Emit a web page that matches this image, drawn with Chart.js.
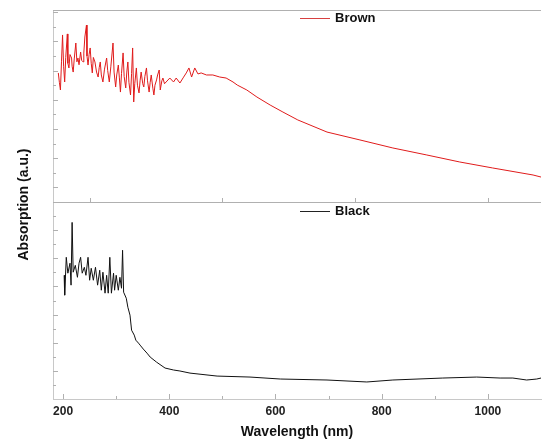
<!DOCTYPE html>
<html>
<head>
<meta charset="utf-8">
<script src="https://cdn.jsdelivr.net/npm/chart.js@4.4.1/dist/chart.umd.min.js"></script>
<style>
  body { margin: 0; background: #fff; }
  #wrap { width: 542px; height: 443px; }
</style>
</head>
<body>
<div id="wrap"><canvas id="absChart" width="542" height="443"></canvas></div>
<script>
// values (a.u., one tick = 1 unit)
const brownWavelength = [191, 193, 195, 197, 199, 201, 203, 205, 208, 209, 211, 213, 216, 217, 219, 221, 224, 226, 228, 230,
  233, 235, 238, 239, 241, 244, 245, 247, 249, 251, 253, 255, 257, 260, 263, 266, 268, 270, 272, 275,
  278, 282, 284, 287, 290, 294, 296, 299, 301, 304, 306, 308, 310, 313, 315, 318, 320, 322, 324, 327,
  329, 331, 333, 335, 338, 340, 343, 345, 347, 350, 352, 354, 357, 359, 362, 364, 366, 369, 371, 373,
  376, 378, 381, 383, 386, 388, 391, 394, 401, 408, 413, 420, 426, 432, 437, 442, 448, 454, 460, 470,
  482, 495, 507, 520, 528, 546, 565, 590, 614, 642, 697, 759, 821, 885, 947, 1009, 1085, 1100];
const brownAbs = [8.84, 8.2, 7.67, 9.6, 11.44, 9.3, 8.22, 9.9, 11.51, 9.5, 9.18, 10.1, 9.86, 9.3, 8.90, 9.8, 10.89, 9.6, 9.86, 9.4,
  10.27, 9.7, 9.59, 10.2, 11.30, 12.12, 10.0, 9.38, 10.1, 10.55, 9.5, 8.84, 9.9, 9.59, 8.9, 8.56, 9.2, 9.59, 8.7, 8.22,
  9.1, 9.86, 9.0, 8.22, 9.3, 10.89, 8.9, 7.88, 8.7, 9.38, 8.5, 7.53, 8.8, 10.21, 8.6, 7.81, 8.9, 9.59, 8.2, 7.33,
  8.8, 10.55, 6.85, 8.1, 9.18, 8.0, 7.47, 8.3, 8.90, 8.1, 7.88, 8.6, 9.18, 8.3, 7.53, 8.2, 8.70, 7.8, 7.33, 8.0,
  8.36, 8.7, 9.04, 7.67, 8.3, 8.49, 8.1, 8.22, 8.49, 8.22, 8.49, 8.15, 8.50, 8.84, 9.18, 8.56, 9.18, 8.77, 8.84, 8.70,
  8.70, 8.56, 8.49, 8.22, 8.01, 7.67, 7.19, 6.64, 6.16, 5.62, 4.79, 4.25, 3.70, 3.22, 2.74, 2.33, 1.85, 1.71];

const blackWavelength = [202, 203, 206, 209, 213, 215, 217, 219, 223, 227, 230, 233, 236, 240, 243, 247, 250, 253, 257, 261,
  265, 269, 272, 275, 279, 282, 285, 288, 291, 295, 297, 300, 304, 307, 310, 312, 314, 319, 322, 326,
  329, 334, 337, 342, 345, 351, 358, 364, 376, 392, 408, 420, 439, 490, 552, 609, 697, 772, 821, 915,
  979, 1023, 1047, 1073, 1092, 1100];
const blackAbs = [8.79, 7.38, 10.07, 8.94, 9.65, 8.09, 12.55, 9.01, 9.50, 8.65, 9.65, 10.07, 8.94, 9.36, 8.79, 10.07, 8.44, 9.29, 8.44, 9.36,
  8.09, 9.15, 7.73, 9.01, 7.52, 8.79, 7.52, 10.07, 7.52, 8.94, 7.73, 8.79, 7.73, 8.65, 7.87, 10.57, 7.59, 7.16, 6.52, 5.96,
  4.89, 4.54, 4.18, 3.97, 3.83, 3.55, 3.26, 2.98, 2.62, 2.20, 2.06, 1.99, 1.84, 1.63, 1.56, 1.42, 1.35, 1.21, 1.35, 1.49,
  1.56, 1.49, 1.49, 1.35, 1.42, 1.49];

const xTickValues = [200, 400, 600, 800, 1000];
const xMinorTicks = [300, 500, 700, 900];
const midTicks = [250, 500, 750, 1000];

const FONT = "'Liberation Sans', Arial, sans-serif";
const FRAME = "#c8c8c8";

function toPoints(xs, ys) {
  return xs.map((x, i) => ({ x: x, y: ys[i] }));
}

// frame, inner tick marks, panel legends and the shared y title
const framePlugin = {
  id: "frame",
  afterDraw(chart) {
    const ctx = chart.ctx;
    const area = chart.chartArea;
    const x = chart.scales.x;
    const yTop = chart.scales.yBrown;
    const yBot = chart.scales.yBlack;
    ctx.save();
    ctx.strokeStyle = FRAME;
    ctx.lineWidth = 1;
    ctx.beginPath();
    ctx.moveTo(area.left, Math.round(yTop.top) + 0.5);
    ctx.lineTo(area.right, Math.round(yTop.top) + 0.5);
    ctx.moveTo(area.left, Math.round(yBot.top) + 0.5);
    ctx.lineTo(area.right, Math.round(yBot.top) + 0.5);

    ctx.strokeStyle = "#b0b0b0";
    for (let v = 1; v < yTop.max; v++) {
      const py = Math.round(yTop.getPixelForValue(v)) + 0.5;
      const len = v % 2 ? 5 : 3;
      ctx.moveTo(area.left, py);
      ctx.lineTo(area.left + len, py);
    }
    for (let v = 1; v < yBot.max; v++) {
      const py = Math.round(yBot.getPixelForValue(v)) + 0.5;
      const len = v % 2 ? 3 : 5;
      ctx.moveTo(area.left, py);
      ctx.lineTo(area.left + len, py);
    }
    xTickValues.forEach((v) => {
      const px = Math.round(x.getPixelForValue(v)) + 0.5;
      ctx.moveTo(px, area.bottom);
      ctx.lineTo(px, area.bottom - 5);
    });
    xMinorTicks.forEach((v) => {
      const px = Math.round(x.getPixelForValue(v)) + 0.5;
      ctx.moveTo(px, area.bottom);
      ctx.lineTo(px, area.bottom - 3);
    });
    midTicks.forEach((v) => {
      const px = Math.round(x.getPixelForValue(v)) + 0.5;
      ctx.moveTo(px, yBot.top);
      ctx.lineTo(px, yBot.top - 4);
    });
    ctx.stroke();

    // legends
    const legends = [
      { text: "Brown", color: "#d84040", y: yTop.top + 8 },
      { text: "Black", color: "#222", y: yBot.top + 9 },
    ];
    ctx.font = "bold 13px " + FONT;
    ctx.textBaseline = "middle";
    legends.forEach((l) => {
      ctx.strokeStyle = l.color;
      ctx.beginPath();
      ctx.moveTo(300, Math.round(l.y) + 0.5);
      ctx.lineTo(330, Math.round(l.y) + 0.5);
      ctx.stroke();
      ctx.fillStyle = "#111";
      ctx.fillText(l.text, 335, l.y + 0.5);
    });

    // y title spanning both panels
    ctx.translate(24, (area.top + area.bottom) / 2);
    ctx.rotate(-Math.PI / 2);
    ctx.font = "bold 14px " + FONT;
    ctx.textAlign = "center";
    ctx.fillStyle = "#111";
    ctx.fillText("Absorption (a.u.)", 0, 0);
    ctx.restore();
  },
};

const chart = new Chart("absChart", {
  type: "line",
  data: {
    datasets: [
      {
        label: "Brown",
        data: toPoints(brownWavelength, brownAbs),
        borderColor: "#e01b1b",
        borderWidth: 1,
        pointRadius: 0,
        tension: 0,
        fill: false,
        yAxisID: "yBrown",
      },
      {
        label: "Black",
        data: toPoints(blackWavelength, blackAbs),
        borderColor: "#111",
        borderWidth: 1,
        pointRadius: 0,
        tension: 0,
        fill: false,
        yAxisID: "yBlack",
      },
    ],
  },
  options: {
    responsive: false,
    animation: false,
    devicePixelRatio: 1,
    layout: { padding: { top: 10, right: 1, left: 0, bottom: 0 } },
    plugins: {
      legend: { display: false },
      tooltip: { enabled: false },
    },
    scales: {
      x: {
        type: "linear",
        min: 181,
        max: 1100,
        afterBuildTicks: (scale) => {
          scale.ticks = xTickValues.map((v) => ({ value: v }));
        },
        afterFit: (scale) => {
          scale.height = 44;
        },
        grid: { display: false, drawTicks: false },
        border: { color: FRAME },
        ticks: {
          padding: 5,
          color: "#222",
          font: { family: FONT, size: 12, weight: "bold" },
          callback: (value) => String(value),
        },
        title: {
          display: true,
          text: "Wavelength (nm)",
          color: "#111",
          padding: { top: 0, bottom: 2 },
          font: { family: FONT, size: 14, weight: "bold" },
        },
      },
      yBlack: {
        type: "linear",
        position: "left",
        stack: "panels",
        stackWeight: 197,
        min: 0,
        max: 14,
        afterFit: (scale) => {
          scale.width = 53;
        },
        grid: { display: false, drawTicks: false },
        border: { color: FRAME },
        ticks: { display: false },
      },
      yBrown: {
        type: "linear",
        position: "left",
        stack: "panels",
        stackWeight: 192,
        min: 0,
        max: 13.15,
        afterFit: (scale) => {
          scale.width = 53;
        },
        grid: { display: false, drawTicks: false },
        border: { color: FRAME },
        ticks: { display: false },
      },
    },
  },
  plugins: [framePlugin],
});
</script>
</body>
</html>
